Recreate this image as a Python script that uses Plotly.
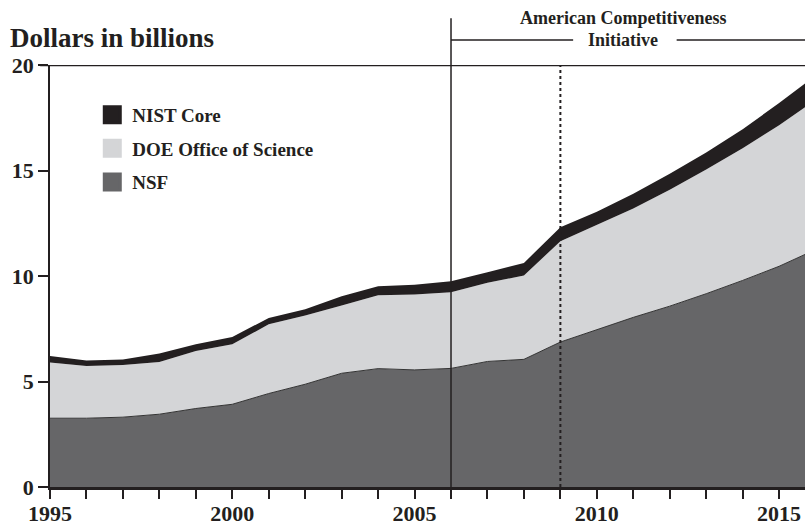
import plotly.graph_objects as go

years = list(range(1995, 2017))
nsf = [3.26, 3.26, 3.31, 3.45, 3.72, 3.92, 4.43, 4.87, 5.39, 5.61, 5.55, 5.62,
       5.95, 6.05, 6.87, 7.47, 8.04, 8.57, 9.16, 9.79, 10.46, 11.25]
doe = [2.64, 2.48, 2.47, 2.48, 2.73, 2.84, 3.28, 3.26, 3.21, 3.48, 3.57, 3.61,
       3.73, 3.97, 4.78, 4.96, 5.16, 5.52, 5.89, 6.27, 6.69, 7.10]
nist = [0.31, 0.26, 0.26, 0.40, 0.32, 0.35, 0.30, 0.30, 0.44, 0.42, 0.47, 0.52,
        0.50, 0.60, 0.66, 0.62, 0.70, 0.76, 0.80, 0.89, 1.05, 1.15]
series_names = ["NSF", "DOE Office of Science", "NIST Core"]
colors = {"NSF": "#666668", "DOE Office of Science": "#d4d5d7", "NIST Core": "#231f20"}
x_ticks = list(range(1995, 2016))
x_labels = [str(y) if y % 5 == 0 else "" for y in x_ticks]
y_ticks = [0, 5, 10, 15, 20]
aci_start = 2006
marker_year = 2009

FONT = "Liberation Serif"
INK = "#231f20"

fig = go.Figure()
for name, vals in zip(series_names, [nsf, doe, nist]):
    fig.add_trace(go.Scatter(
        x=years, y=vals, stackgroup="one", mode="lines",
        line=dict(color="#333333" if name == "NSF" else colors[name],
                  width=1 if name == "NSF" else 0),
        fillcolor=colors[name], showlegend=False, hoverinfo="skip"))

for i, name in enumerate(["NIST Core", "DOE Office of Science", "NSF"]):
    fig.add_trace(go.Scatter(
        x=[None], y=[None], mode="markers", name=name, legendgroup=str(i),
        marker=dict(symbol="square", size=16, color=colors[name],
                    line=dict(color=colors[name], width=3))))

fig.add_shape(type="line", xref="x", yref="paper", x0=aci_start, x1=aci_start,
              y0=0, y1=1.111, line=dict(color=INK, width=1.5))
fig.add_shape(type="line", xref="x", yref="y", x0=marker_year, x1=marker_year,
              y0=0, y1=20, line=dict(color=INK, width=2, dash="dot"))
fig.add_shape(type="line", xref="paper", yref="y", x0=-0.013, x1=1, y0=20, y1=20,
              line=dict(color=INK, width=2.5))
fig.add_shape(type="line", xref="x", yref="paper", x0=aci_start, x1=aci_start + 3.35,
              y0=1.059, y1=1.059, line=dict(color=INK, width=1.5))
fig.add_shape(type="line", xref="paper", yref="paper", x0=0.830, x1=1.0,
              y0=1.059, y1=1.059, line=dict(color=INK, width=1.5))

fig.add_annotation(text="Dollars in billions", xref="paper", yref="paper",
                   x=-0.055, y=1.064, xanchor="left", yanchor="middle",
                   showarrow=False, font=dict(size=27, weight="bold"))
fig.add_annotation(text="American Competitiveness", xref="paper", yref="paper",
                   x=0.759, y=1.111, xanchor="center", yanchor="middle",
                   showarrow=False, font=dict(size=18, weight="bold"))
fig.add_annotation(text="Initiative", xref="paper", yref="paper",
                   x=0.759, y=1.059, xanchor="center", yanchor="middle",
                   showarrow=False, font=dict(size=18, weight="bold"))

fig.update_layout(
    width=805, height=525,
    margin=dict(l=50, r=0, t=65, b=38),
    paper_bgcolor="white", plot_bgcolor="white",
    font=dict(family=FONT, color=INK, weight="bold"),
    legend=dict(x=0.056, y=0.927, xanchor="left", yanchor="top",
                traceorder="grouped", tracegroupgap=6,
                font=dict(size=19, weight="bold"), bgcolor="rgba(0,0,0,0)"),
    xaxis=dict(range=[1995, 2015.71], tickvals=x_ticks, ticktext=x_labels,
               ticks="outside", ticklen=9, tickwidth=1.5, tickcolor=INK,
               showline=True, linewidth=2.5, linecolor=INK, showgrid=False,
               zeroline=False, automargin=False, ticklabelstandoff=-4,
               tickfont=dict(size=22, weight="bold")),
    yaxis=dict(range=[0, 20], tickvals=y_ticks, ticks="outside", ticklen=10,
               tickwidth=1.5, tickcolor=INK, showline=True, linewidth=1.5,
               linecolor=INK, showgrid=False, zeroline=False, automargin=False,
               tickfont=dict(size=22, weight="bold")),
)

fig.write_html("out.html", config={"displayModeBar": False},
               post_script="document.body.style.margin='0';")
